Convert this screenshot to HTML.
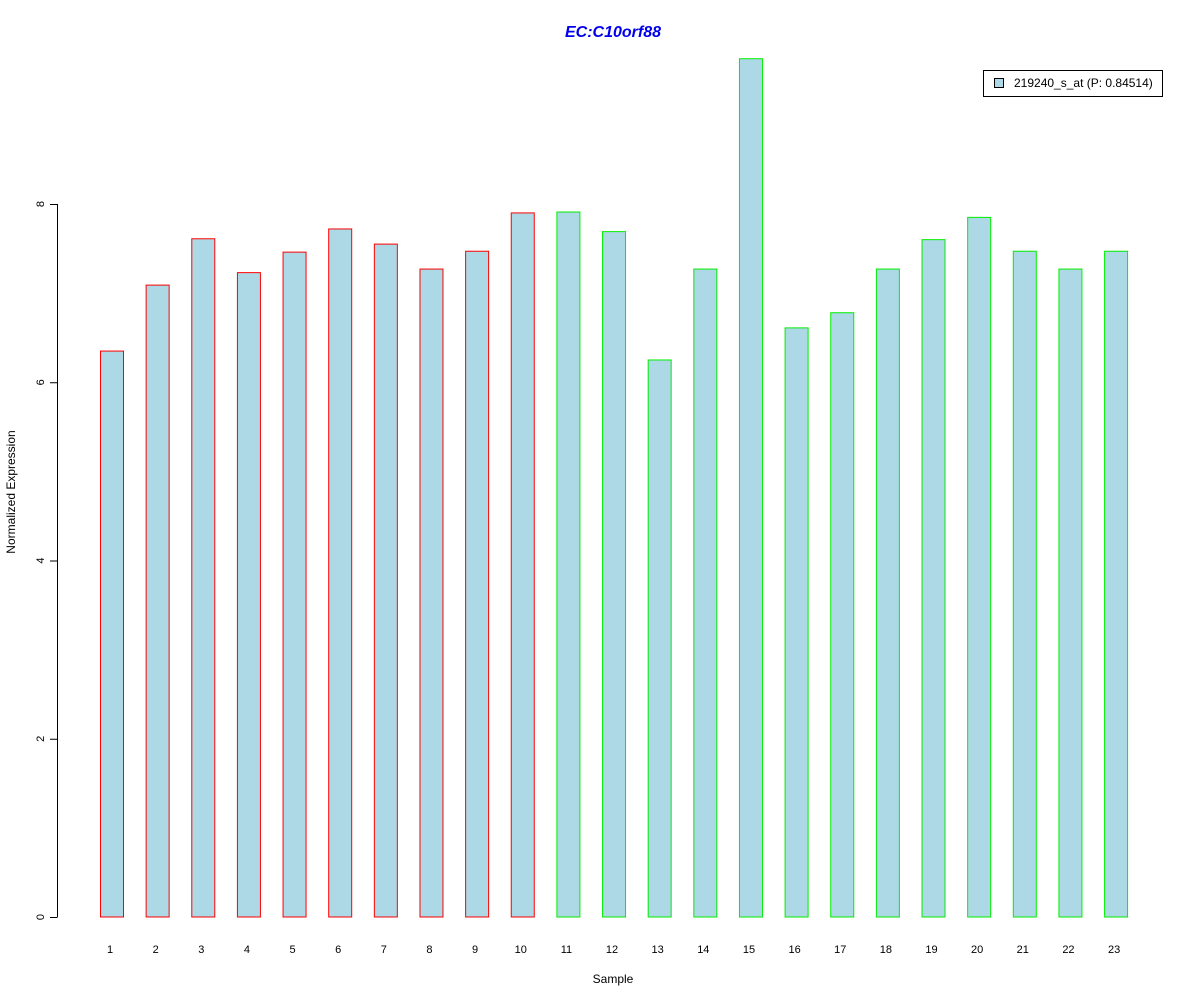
<!DOCTYPE html>
<html><head><meta charset="utf-8"><style>
body{margin:0;background:#fff;}
svg{display:block;font-family:"Liberation Sans",Arial,sans-serif;}
</style></head><body>
<svg id="chart" width="1200" height="1000">
<text x="613" y="37" text-anchor="middle" font-size="16" font-weight="bold" font-style="italic" fill="#0000ee">EC:C10orf88</text>
<text x="613" y="983" text-anchor="middle" font-size="12">Sample</text>
<text transform="translate(15,492) rotate(-90)" text-anchor="middle" font-size="12">Normalized Expression</text>
<g id="yaxis"></g>
<g id="bars"></g>
<g id="xlabels"></g>
<g>
<rect x="983.5" y="70.5" width="179" height="26" fill="#fff" stroke="#000"/>
<rect x="994.5" y="78.5" width="9" height="9" fill="#add8e6" stroke="#000"/>
<text x="1014" y="87" font-size="12">219240_s_at (P: 0.84514)</text>
</g>
</svg>
<script>
const categories=["1","2","3","4","5","6","7","8","9","10","11","12","13","14","15","16","17","18","19","20","21","22","23"];
const values=[6.35,7.09,7.61,7.23,7.46,7.72,7.55,7.27,7.47,7.90,7.91,7.69,6.25,7.27,9.63,6.61,6.78,7.27,7.60,7.85,7.47,7.27,7.47];
const groups=["a","a","a","a","a","a","a","a","a","a","b","b","b","b","b","b","b","b","b","b","b","b","b"];
const yTicks=[0,2,4,6,8];
const NS="http://www.w3.org/2000/svg";
const y=v=>917-v*89.125;
const x=i=>112+i*45.64;
const yax=document.getElementById('yaxis');
function mk(t,a,p){const e=document.createElementNS(NS,t);for(const k in a)e.setAttribute(k,a[k]);p.appendChild(e);return e;}
mk('line',{x1:57.5,x2:57.5,y1:y(0),y2:y(yTicks[yTicks.length-1]),stroke:'#000'},yax);
yTicks.forEach(t=>{
 const l=mk('line',{x1:50,x2:57.5,y1:y(t)+0.5,y2:y(t)+0.5,stroke:'#000'},yax);
 
 
 const tx=mk('text',{transform:`translate(44,${y(t)}) rotate(-90)`,'text-anchor':'middle','font-size':11},yax);
 tx.textContent=t;
 
 
});
const bg=document.getElementById('bars'),xl=document.getElementById('xlabels');
values.forEach((v,i)=>{
 const r=mk('rect',{x:x(i)-11.5,y:y(v),width:23,height:y(0)-y(v),fill:'#add8e6',stroke:groups[i]==='a'?'#ff0000':'#00ee00'},bg);
 
 
 const t=mk('text',{x:x(i)-2,y:953,'text-anchor':'middle','font-size':11},xl);
 t.textContent=categories[i];
 
 
});
</script>
</body></html>
